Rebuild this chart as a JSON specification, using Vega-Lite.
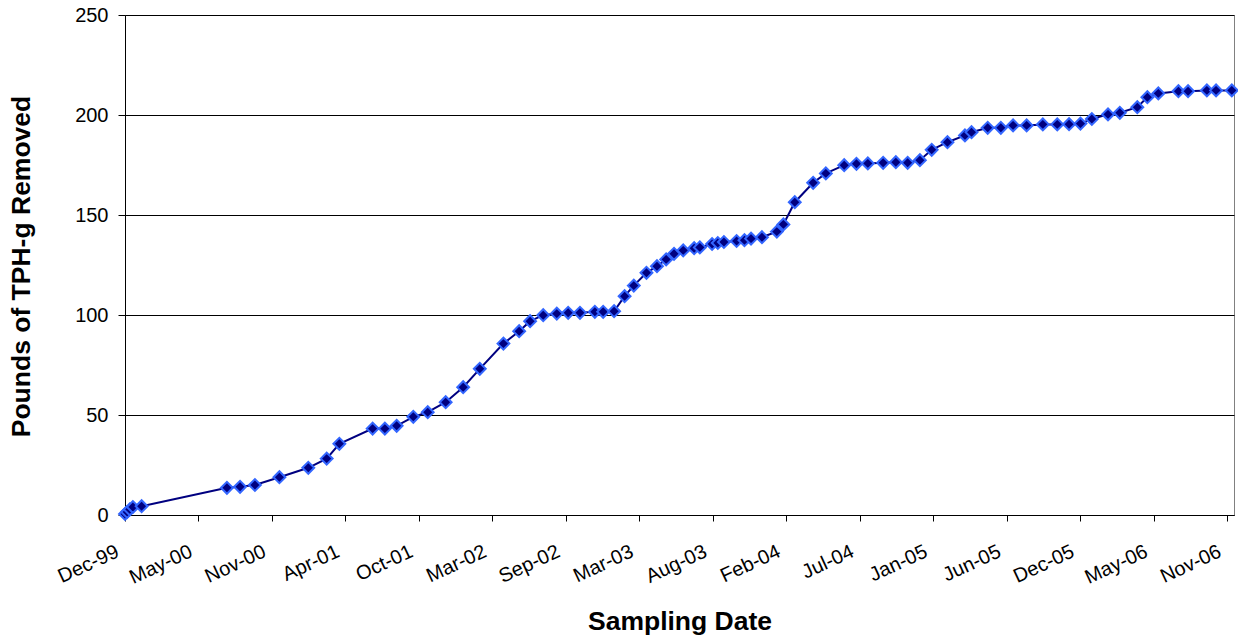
{
  "$schema": "https://vega.github.io/schema/vega-lite/v6.json",
  "autosize": {"type": "none"},
  "width": 1109,
  "height": 500,
  "padding": {"left": 125, "top": 15, "right": 4, "bottom": 127},
  "background": "white",
  "config": {
    "font": "Liberation Sans",
    "view": {"stroke": "#808080", "strokeWidth": 1},
    "axis": {"labelFont": "Liberation Sans", "titleFont": "Liberation Sans"}
  },
  "data": {
    "values": [
      {"date": "1999-12-12", "lbs": 0.5},
      {"date": "1999-12-17", "lbs": 1.5},
      {"date": "1999-12-23", "lbs": 2.8},
      {"date": "1999-12-30", "lbs": 4.0},
      {"date": "2000-01-19", "lbs": 4.4},
      {"date": "2000-08-01", "lbs": 13.6},
      {"date": "2000-08-31", "lbs": 14.1},
      {"date": "2000-10-04", "lbs": 15.0},
      {"date": "2000-11-29", "lbs": 18.9},
      {"date": "2001-02-03", "lbs": 23.6},
      {"date": "2001-03-17", "lbs": 28.2},
      {"date": "2001-04-15", "lbs": 35.6},
      {"date": "2001-06-30", "lbs": 43.2},
      {"date": "2001-07-28", "lbs": 43.2},
      {"date": "2001-08-24", "lbs": 44.6},
      {"date": "2001-10-01", "lbs": 49.1},
      {"date": "2001-11-03", "lbs": 51.4},
      {"date": "2001-12-14", "lbs": 56.4},
      {"date": "2002-01-23", "lbs": 63.9},
      {"date": "2002-03-02", "lbs": 73.1},
      {"date": "2002-04-25", "lbs": 85.7},
      {"date": "2002-05-31", "lbs": 91.9},
      {"date": "2002-06-25", "lbs": 96.9},
      {"date": "2002-07-25", "lbs": 99.9},
      {"date": "2002-08-25", "lbs": 100.7},
      {"date": "2002-09-20", "lbs": 101.1},
      {"date": "2002-10-17", "lbs": 101.1},
      {"date": "2002-11-20", "lbs": 101.6},
      {"date": "2002-12-09", "lbs": 101.6},
      {"date": "2003-01-03", "lbs": 101.9},
      {"date": "2003-01-27", "lbs": 109.4},
      {"date": "2003-02-17", "lbs": 114.7},
      {"date": "2003-03-18", "lbs": 121.1},
      {"date": "2003-04-11", "lbs": 124.4},
      {"date": "2003-05-02", "lbs": 127.8},
      {"date": "2003-05-20", "lbs": 130.6},
      {"date": "2003-06-10", "lbs": 132.3},
      {"date": "2003-07-05", "lbs": 133.4},
      {"date": "2003-07-18", "lbs": 133.8},
      {"date": "2003-08-15", "lbs": 135.5},
      {"date": "2003-08-28", "lbs": 136.0},
      {"date": "2003-09-11", "lbs": 136.5},
      {"date": "2003-10-10", "lbs": 137.0},
      {"date": "2003-10-28", "lbs": 137.4},
      {"date": "2003-11-12", "lbs": 138.2},
      {"date": "2003-12-07", "lbs": 138.9},
      {"date": "2004-01-10", "lbs": 141.7},
      {"date": "2004-01-25", "lbs": 145.3},
      {"date": "2004-02-20", "lbs": 156.4},
      {"date": "2004-04-02", "lbs": 166.1},
      {"date": "2004-05-01", "lbs": 170.8},
      {"date": "2004-06-12", "lbs": 174.9},
      {"date": "2004-07-10", "lbs": 175.6},
      {"date": "2004-08-05", "lbs": 175.8},
      {"date": "2004-09-09", "lbs": 176.1},
      {"date": "2004-10-08", "lbs": 176.4},
      {"date": "2004-11-04", "lbs": 176.1},
      {"date": "2004-12-02", "lbs": 177.4},
      {"date": "2004-12-29", "lbs": 182.6},
      {"date": "2005-02-03", "lbs": 186.4},
      {"date": "2005-03-15", "lbs": 189.8},
      {"date": "2005-03-30", "lbs": 191.4},
      {"date": "2005-05-06", "lbs": 193.6},
      {"date": "2005-06-05", "lbs": 193.6},
      {"date": "2005-07-03", "lbs": 194.8},
      {"date": "2005-08-03", "lbs": 194.8},
      {"date": "2005-09-09", "lbs": 195.3},
      {"date": "2005-10-12", "lbs": 195.3},
      {"date": "2005-11-08", "lbs": 195.4},
      {"date": "2005-12-04", "lbs": 195.7},
      {"date": "2005-12-30", "lbs": 198.0},
      {"date": "2006-02-05", "lbs": 200.3},
      {"date": "2006-03-04", "lbs": 201.1},
      {"date": "2006-04-13", "lbs": 203.9},
      {"date": "2006-05-06", "lbs": 208.9},
      {"date": "2006-05-31", "lbs": 210.8},
      {"date": "2006-07-16", "lbs": 211.9},
      {"date": "2006-08-07", "lbs": 211.9},
      {"date": "2006-09-19", "lbs": 212.3},
      {"date": "2006-10-10", "lbs": 212.3},
      {"date": "2006-11-15", "lbs": 212.3}
    ]
  },
  "encoding": {
    "x": {
      "field": "date",
      "type": "temporal",
      "scale": {
        "type": "utc",
        "domain": [
          {"year": 1999, "month": 12, "date": 12, "utc": true},
          {"year": 2006, "month": 11, "date": 20, "utc": true}
        ]
      },
      "axis": {
        "title": "Sampling Date",
        "format": "%b-%y",
        "values": [
          {"year": 1999, "month": 12, "date": 12, "utc": true},
          {"year": 2000, "month": 5, "date": 28, "utc": true},
          {"year": 2000, "month": 11, "date": 12, "utc": true},
          {"year": 2001, "month": 4, "date": 29, "utc": true},
          {"year": 2001, "month": 10, "date": 14, "utc": true},
          {"year": 2002, "month": 3, "date": 31, "utc": true},
          {"year": 2002, "month": 9, "date": 15, "utc": true},
          {"year": 2003, "month": 3, "date": 2, "utc": true},
          {"year": 2003, "month": 8, "date": 17, "utc": true},
          {"year": 2004, "month": 2, "date": 1, "utc": true},
          {"year": 2004, "month": 7, "date": 18, "utc": true},
          {"year": 2005, "month": 1, "date": 2, "utc": true},
          {"year": 2005, "month": 6, "date": 19, "utc": true},
          {"year": 2005, "month": 12, "date": 4, "utc": true},
          {"year": 2006, "month": 5, "date": 21, "utc": true},
          {"year": 2006, "month": 11, "date": 5, "utc": true}
        ],
        "grid": false,
        "domainColor": "#000000",
        "domainWidth": 1,
        "tickColor": "#000000",
        "tickSize": 6,
        "labelAngle": -25,
        "labelAlign": "right",
        "labelBaseline": "top",
        "labelPadding": 20,
        "labelOffset": -12,
        "labelFontSize": 20,
        "labelColor": "#000000",
        "labelOverlap": false,
        "labelFlush": false,
        "titleFontSize": 26.5,
        "titleFontWeight": "bold",
        "titleColor": "#000000",
        "titleBaseline": "alphabetic",
        "titleY": 114
      }
    },
    "y": {
      "field": "lbs",
      "type": "quantitative",
      "scale": {"domain": [0, 250], "nice": false, "zero": true},
      "axis": {
        "title": "Pounds of TPH-g Removed",
        "values": [0, 50, 100, 150, 200, 250],
        "grid": true,
        "gridColor": "#000000",
        "gridWidth": 1,
        "domainColor": "#000000",
        "tickColor": "#000000",
        "tickSize": 7,
        "labelPadding": 10,
        "labelFontSize": 20,
        "labelColor": "#000000",
        "titleFontSize": 26.5,
        "titleFontWeight": "bold",
        "titleColor": "#000000",
        "titleAngle": 270,
        "titleAlign": "center",
        "titleBaseline": "alphabetic",
        "titleX": -96,
        "titleY": 251
      }
    }
  },
  "layer": [
    {
      "mark": {"type": "line", "color": "#000080", "strokeWidth": 2}
    },
    {
      "mark": {
        "type": "point",
        "shape": "diamond",
        "filled": true,
        "size": 140,
        "fill": "#000080",
        "stroke": "#3366FF",
        "strokeWidth": 2,
        "opacity": 1,
        "fillOpacity": 1
      }
    }
  ]
}
